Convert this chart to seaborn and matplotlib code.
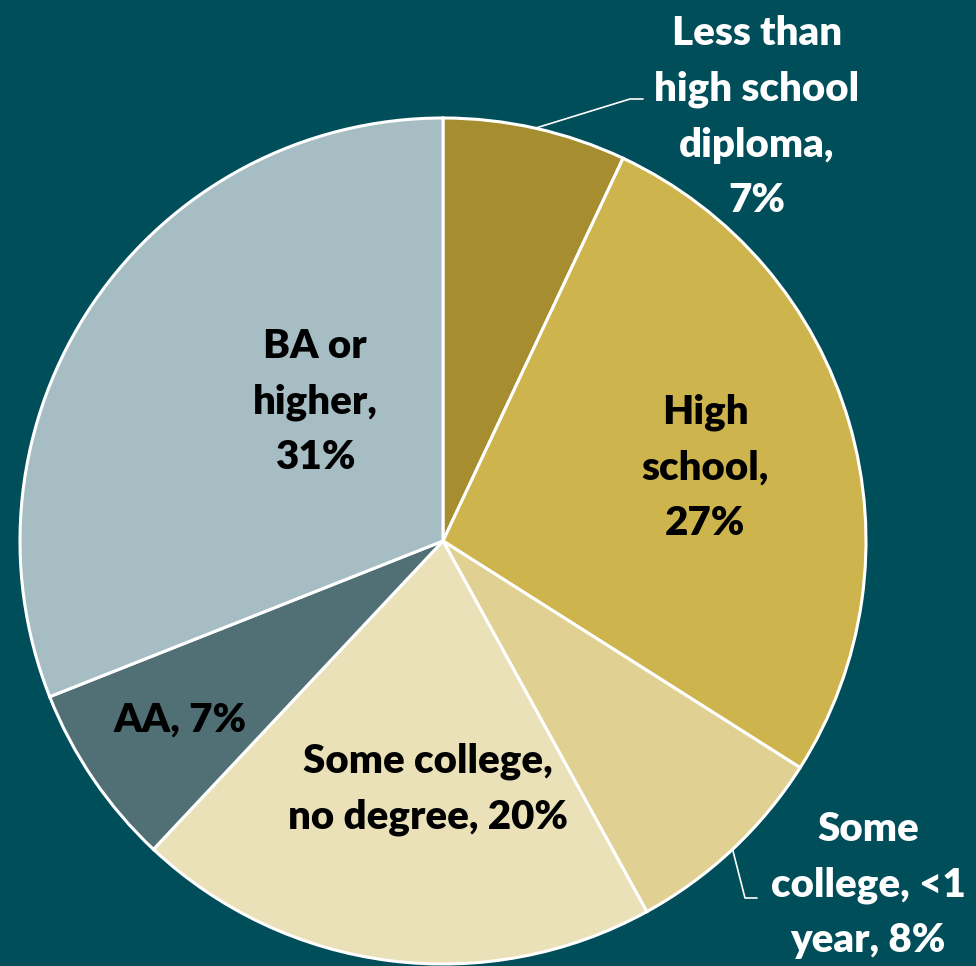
import numpy as np
import matplotlib
matplotlib.use("Agg")
import matplotlib.pyplot as plt
import seaborn as sns

categories = ["Less than\nhigh school\ndiploma,", "High\nschool,", "Some\ncollege, <1\nyear,",
              "Some college,\nno degree,", "AA,", "BA or\nhigher,"]
values = [7, 27, 8, 20, 7, 31]
colors = ["#A68D30", "#CEB44C", "#E0D193", "#EAE1B8", "#507076", "#A5BDC3"]
label_colors = ["white", "black", "white", "black", "black", "black"]
# how the percentage joins its label: new line or same line
pct_newline = [True, True, False, False, False, True]
# label centres in pixel coordinates of the reference (layout only)
label_px = [(757, 117), (705, 468), (868, 885), (428, 789), (180, 720), (315, 402)]

BG = "#004E5A"
W, H = 976, 966
CX, CY, R = 443, 541, 423

sns.set_style("white")
plt.rcParams["font.family"] = ["Lato", "DejaVu Sans"]

fig = plt.figure(figsize=(W / 100, H / 100), dpi=100, facecolor=BG)
ax = fig.add_axes([0, 0, 1, 1])
ax.set_facecolor(BG)

wedges, _ = ax.pie(values, colors=colors, startangle=90, counterclock=False,
                   radius=1.0, wedgeprops=dict(edgecolor="white", linewidth=2.2))

ax.set_xlim(-CX / R, (W - CX) / R)
ax.set_ylim(-(H - CY) / R, CY / R)
ax.set_aspect("auto")
ax.axis("off")

def px2d(px, py):
    return (px - CX) / R, (CY - py) / R

for i, (cat, v) in enumerate(zip(categories, values)):
    sep = "\n" if pct_newline[i] else " "
    txt = f"{cat}{sep}{v}%"
    x, y = px2d(*label_px[i])
    ax.text(x, y, txt, ha="center", va="center", fontsize=29, fontweight="heavy",
            color=label_colors[i], linespacing=1.62)

# leader lines from wedge mid-angle on the rim
def leader(w, bend_px, end_px):
    a = np.deg2rad((w.theta1 + w.theta2) / 2)
    sx, sy = np.cos(a), np.sin(a)
    ex, ey = px2d(*bend_px)
    fx, fy = px2d(*end_px)
    ax.plot([sx, ex, fx], [sy, ey, fy], color="white", lw=1.2)

leader(wedges[0], (630, 99), (643, 99))
leader(wedges[2], (745, 898), (757, 898))

fig.savefig("out.png", dpi=100, facecolor=BG)
